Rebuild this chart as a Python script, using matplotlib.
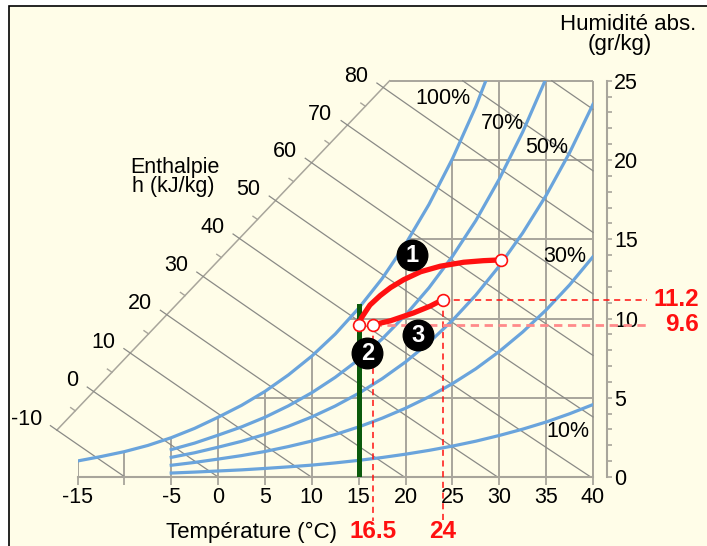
import numpy as np
import matplotlib
matplotlib.use('Agg')
import matplotlib.pyplot as plt
from matplotlib.patches import Rectangle

plt.rcParams['font.family'] = ['Liberation Sans', 'DejaVu Sans']

# saturation curve (100 %), absolute humidity in g/kg
temp_sat = [-15, -12.5, -10, -7.5, -5, -2.5, 0, 2.5, 5, 7.5, 10, 12.5, 15,
            17.5, 20, 22.5, 25, 27.5, 30]
w_100 = [1.01, 1.29, 1.60, 1.99, 2.48, 3.07, 3.77, 4.52, 5.40, 6.44, 7.63,
         9.02, 10.65, 12.52, 14.70, 17.20, 20.08, 23.38, 27.20]

# other relative humidity curves
temp_rh = [-5, -2.5, 0, 2.5, 5, 7.5, 10, 12.5, 15, 17.5, 20, 22.5, 25, 27.5,
           30, 32.5, 35, 37.5, 40]
w_70 = [1.73, 2.14, 2.64, 3.16, 3.77, 4.49, 5.32, 6.29, 7.41, 8.71, 10.22,
        11.94, 13.92, 16.18, 18.80, 21.77, 25.16, 29.02, 33.43]
w_50 = [1.24, 1.53, 1.88, 2.25, 2.69, 3.20, 3.79, 4.48, 5.28, 6.20, 7.26,
        8.48, 9.88, 11.48, 13.31, 15.40, 17.77, 20.46, 23.52]
w_30 = [0.74, 0.92, 1.13, 1.35, 1.61, 1.92, 2.27, 2.68, 3.16, 3.71, 4.34,
        5.06, 5.89, 6.83, 7.92, 9.15, 10.54, 12.12, 13.90]
w_10 = [0.25, 0.31, 0.38, 0.45, 0.54, 0.64, 0.75, 0.89, 1.05, 1.23, 1.44,
        1.68, 1.95, 2.26, 2.62, 3.02, 3.47, 3.99, 4.57]
rh_labels = ['100%', '70%', '50%', '30%', '10%']

# axes
temp_ticks = [-15, -10, -5, 0, 5, 10, 15, 20, 25, 30, 35, 40]
temp_ticklabels = ['-15', '', '-5', '0', '5', '10', '15', '20', '25', '30', '35', '40']
w_ticks = [0, 5, 10, 15, 20, 25]
enthalpy = [-10, 0, 10, 20, 30, 40, 50, 60, 70, 80, 90, 100]
enthalpy_labelled = [-10, 0, 10, 20, 30, 40, 50, 60, 70, 80]
# enthalpy scale: diagonal from (T, w) = (-17.2, 2.96) to (18.3, 25)
h_axis_T = [-17.2, 18.3]
h_axis_w = [2.96, 25.0]

# process (points 1-2-3)
proc1_T = [15.0, 15.3, 16.2, 17.3, 18.4, 19.8, 21.6, 23.7, 26.2, 28.3, 30.2]
proc1_w = [9.6, 10.05, 10.85, 11.45, 11.95, 12.45, 12.95, 13.3, 13.55, 13.65, 13.7]
proc3_T = [16.5, 18.35, 20.84, 22.62, 24.0]
proc3_w = [9.6, 9.85, 10.35, 10.78, 11.2]
state_T = [15.0, 16.5, 24.0, 30.2]
state_w = [9.6, 9.6, 11.2, 13.7]
badge_T = [20.67, 15.94, 21.35]
badge_w = [14.0, 7.84, 8.96]
badge_txt = ['1', '2', '3']
green_T = 15
green_w = [0, 10.8]
read_T = [16.5, 24]
read_w = [9.6, 11.2]

cream = '#fffde8'
grid_c = '#a8a59b'
enth_c = '#8a8a86'
blue = '#6aa4dc'
red = '#ff1010'


def t_on_h(h, w):
    return (h - 2.501 * w) / (1.006 + 0.00186 * w)


fig = plt.figure(figsize=(7.07, 5.46), dpi=100, facecolor='white')
fig.patches.append(Rectangle((9 / 707, -0.05), 1.2, 1 - 6 / 546 + 0.05,
                             transform=fig.transFigure, facecolor=cream,
                             edgecolor='black', lw=1.2, zorder=-10))
ax = fig.add_axes([77.5 / 707, 1 - 477 / 546, (593 - 77.5) / 707, (477 - 80.8) / 546])
ax.set_facecolor('none')
ax.set_xlim(-15, 40)
ax.set_ylim(0, 25)

for s in ['top', 'left']:
    ax.spines[s].set_visible(False)
ax.spines['bottom'].set_color(grid_c)
ax.spines['bottom'].set_linewidth(1.5)
ax.spines['right'].set_color(grid_c)
ax.spines['right'].set_linewidth(1.5)
ax.spines['right'].set_position(('outward', 10))

ax.set_xticks(temp_ticks)
ax.set_xticklabels(temp_ticklabels)
ax.yaxis.tick_right()
ax.set_yticks(w_ticks)
ax.set_yticks(np.arange(0, 26, 1), minor=True)
ax.tick_params(axis='x', direction='out', length=6, width=1.3, color=grid_c,
               labelsize=15.5, pad=1.5)
ax.tick_params(axis='y', which='both', direction='out', length=3.6, width=1.2,
               color=grid_c, labelsize=15.5, pad=1.5)

# grid limited by the saturation curve
w_top = np.minimum(np.interp(temp_ticks, temp_sat, w_100), 25)
ax.vlines(temp_ticks, 0, w_top, color=grid_c, lw=1.4, zorder=1)
for w in w_ticks[1:-1]:
    ax.hlines(w, np.interp(w, w_100, temp_sat), 40, color=grid_c, lw=1.4, zorder=1)
ax.hlines(25, h_axis_T[1], 40, color=grid_c, lw=1.4, zorder=1, clip_on=False)
ax.vlines(40, 0, 25, color=grid_c, lw=1.4, zorder=1, clip_on=False)

# enthalpy scale and lines
ax.plot(h_axis_T, h_axis_w, color=grid_c, lw=1.1, clip_on=False, zorder=1)
tg = np.linspace(h_axis_T[0], h_axis_T[1], 400)
wg = np.interp(tg, h_axis_T, h_axis_w)
hg = 1.006 * tg + wg * (2.501 + 0.00186 * tg)
for h in enthalpy:
    if h <= hg.max():
        w0 = np.interp(h, hg, wg)
        w_start = w0 + 0.28
    else:
        w0 = 25.0
        w_start = 25.0
    if h / 1.006 <= 40:
        w_end = 0.0
    else:
        w_end = (h - 1.006 * 40) / (2.501 + 0.00186 * 40)
    ws = np.linspace(w_end, w_start, 30)
    ax.plot(t_on_h(h, ws), ws, color=enth_c, lw=0.9, clip_on=False, zorder=1)
    if h in enthalpy_labelled:
        ax.annotate(str(h), (t_on_h(h, w0), w0), xytext=(-15, 11),
                    textcoords='offset pixels', ha='right', va='center',
                    fontsize=15.5, annotation_clip=False)
for h in np.arange(-5, 80, 10):
    w0 = np.interp(h, hg, wg)
    ws = np.array([w0, w0 + 0.2])
    ax.plot(t_on_h(h, ws), ws, color=grid_c, lw=1.0, clip_on=False, zorder=1)

# relative humidity curves
ax.plot(temp_sat, w_100, color=blue, lw=2.3, zorder=2)
for wc in [w_70, w_50, w_30, w_10]:
    ax.plot(temp_rh, wc, color=blue, lw=2.3, zorder=2)
for txt, (tx, wy) in zip(rh_labels, [(24.0, 23.9), (30.3, 22.3), (35.1, 20.8),
                                     (37.0, 13.9), (37.3, 2.86)]):
    ax.text(tx, wy, txt, ha='center', va='center', fontsize=15.5, zorder=3)

# process
ax.plot([green_T, green_T], green_w, color='#0b5a0b', lw=3.6, zorder=3)
dash = (0, (4, 3))
for t, w in zip(read_T, read_w):
    ax.plot([t, t], [w, -2.75], color=red, lw=1.1, ls=dash, clip_on=False, zorder=3)
ax.plot([read_T[1], 45.8], [read_w[1]] * 2, color=red, lw=1.1, ls=dash,
        clip_on=False, zorder=3)
ax.plot([read_T[0], 45.8], [read_w[0]] * 2, color='#ff8a8a', lw=2.0,
        ls=(0, (3, 2)), clip_on=False, zorder=3)
ax.plot(proc1_T, proc1_w, color=red, lw=3.8, solid_capstyle='round', zorder=4)
ax.plot(proc3_T, proc3_w, color=red, lw=3.8, solid_capstyle='round', zorder=4)
ax.plot(state_T, state_w, 'o', ms=8.5, mfc='white', mec=red, mew=1.2, zorder=5)
ax.plot(badge_T, badge_w, 'o', ms=22, color='black', zorder=5)
for t, w, s in zip(badge_T, badge_w, badge_txt):
    ax.text(t, w - 0.05, s, color='white', fontsize=17, fontweight='bold',
            ha='center', va='center', zorder=6)

# texts
ax.text(-4.59, 19.56, 'Enthalpie', ha='center', va='center', fontsize=15.5)
ax.text(-4.81, 18.36, 'h (kJ/kg)', ha='center', va='center', fontsize=15.5)
ax.text(43.7, 28.58, 'Humidité abs.', ha='center', va='center', fontsize=16,
        clip_on=False)
ax.text(42.88, 27.26, '(gr/kg)', ha='center', va='center', fontsize=16,
        clip_on=False)
ax.text(3.55, -3.47, 'Température (°C)', ha='center', va='center', fontsize=16)
for t in read_T:
    ax.text(t, -3.47, f'{t:g}', ha='center', va='center', fontsize=17.5,
            fontweight='bold', color=red)
for w in read_w:
    ax.text(51.3, w, f'{w:g}', ha='right', va='center', fontsize=17.5,
            fontweight='bold', color=red)

fig.savefig('out.png', dpi=100)
